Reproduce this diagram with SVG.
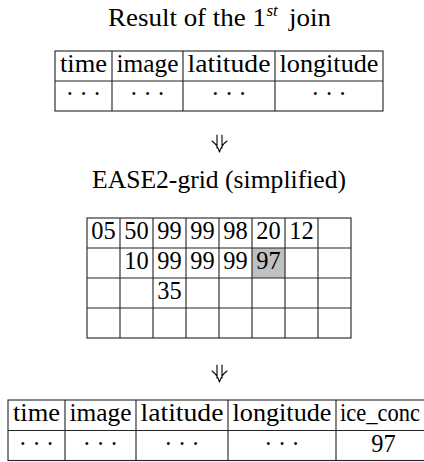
<svg xmlns="http://www.w3.org/2000/svg" width="424" height="462" viewBox="0 0 424 462">
  <style>
    text { font-family: "Liberation Serif", "Times New Roman", serif; font-size: 24.4px; fill: #000; }
    .c { text-anchor: middle; }
    .dots { letter-spacing: 5.5px; }
    .rule { stroke: #222; stroke-width: 1.1; fill: none; }
    .shade { fill: #c0c0c0; }
    .arrow { stroke: #000; stroke-width: 1.1; fill: none; stroke-linecap: round; }
  </style>

  <g id="title-join">
    <text x="108" y="26" textLength="158" lengthAdjust="spacingAndGlyphs">Result of the 1</text>
    <text x="266.5" y="16" style="font-size:17px;font-style:italic">st</text>
    <text x="289" y="26" textLength="42" lengthAdjust="spacingAndGlyphs">join</text>
  </g>

  <g id="table-join">
    <rect class="rule" x="55" y="51" width="328" height="60"/>
    <path class="rule" d="M55,81H383 M112,51V111 M183,51V111 M275,51V111"/>
    <text class="c" x="83.5" y="72" textLength="47" lengthAdjust="spacingAndGlyphs">time</text>
    <text class="c" x="147.5" y="72" textLength="62" lengthAdjust="spacingAndGlyphs">image</text>
    <text class="c" x="229" y="72" textLength="83" lengthAdjust="spacingAndGlyphs">latitude</text>
    <text class="c" x="329" y="72" textLength="99" lengthAdjust="spacingAndGlyphs">longitude</text>
    <text class="c dots" x="86.25" y="102">···</text>
    <text class="c dots" x="150.25" y="102">···</text>
    <text class="c dots" x="231.75" y="102">···</text>
    <text class="c dots" x="331.75" y="102">···</text>
  </g>

  <g id="connectors">
    <g id="arrow-1">
      <path class="arrow" d="M217,135V148 M222,135V148 M212,141Q217.5,145 219.5,152 M227,141Q221.5,145 219.5,152"/>
    </g>
    <g id="arrow-2">
      <path class="arrow" d="M217,365V378 M222,365V378 M212,371Q217.5,375 219.5,382 M227,371Q221.5,375 219.5,382"/>
    </g>
  </g>

  <g id="title-grid">
    <text x="92" y="188" textLength="254" lengthAdjust="spacingAndGlyphs">EASE2-grid (simplified)</text>
  </g>

  <g id="grid">
    <rect class="shade" x="252" y="248" width="33" height="30"/>
    <rect class="rule" x="87" y="218" width="264" height="120"/>
    <path class="rule" d="M87,248H351 M87,278H351 M87,308H351 M120,218V338 M153,218V338 M186,218V338 M219,218V338 M252,218V338 M285,218V338 M318,218V338"/>
    <text class="c" x="103.5" y="239">05</text>
    <text class="c" x="136.5" y="239">50</text>
    <text class="c" x="169.5" y="239">99</text>
    <text class="c" x="202.5" y="239">99</text>
    <text class="c" x="235.5" y="239">98</text>
    <text class="c" x="268.5" y="239">20</text>
    <text class="c" x="301.5" y="239">12</text>
    <text class="c" x="136.5" y="269">10</text>
    <text class="c" x="169.5" y="269">99</text>
    <text class="c" x="202.5" y="269">99</text>
    <text class="c" x="235.5" y="269">99</text>
    <text class="c" x="268.5" y="269">97</text>
    <text class="c" x="169.5" y="299">35</text>
  </g>

  <g id="table-result">
    <rect class="rule" x="8" y="400" width="423" height="60.5"/>
    <path class="rule" d="M8,430.5H431 M65,400V460.5 M136,400V460.5 M228,400V460.5 M336,400V460.5"/>
    <text class="c" x="36.5" y="421" textLength="47" lengthAdjust="spacingAndGlyphs">time</text>
    <text class="c" x="100.5" y="421" textLength="62" lengthAdjust="spacingAndGlyphs">image</text>
    <text class="c" x="182" y="421" textLength="83" lengthAdjust="spacingAndGlyphs">latitude</text>
    <text class="c" x="282" y="421" textLength="99" lengthAdjust="spacingAndGlyphs">longitude</text>
    <text x="340" y="421" textLength="80" lengthAdjust="spacingAndGlyphs">ice_conc</text>
    <text class="c dots" x="39.25" y="451.5">···</text>
    <text class="c dots" x="103.25" y="451.5">···</text>
    <text class="c dots" x="184.75" y="451.5">···</text>
    <text class="c dots" x="284.75" y="451.5">···</text>
    <text class="c" x="383.5" y="451.5">97</text>
  </g>
</svg>
